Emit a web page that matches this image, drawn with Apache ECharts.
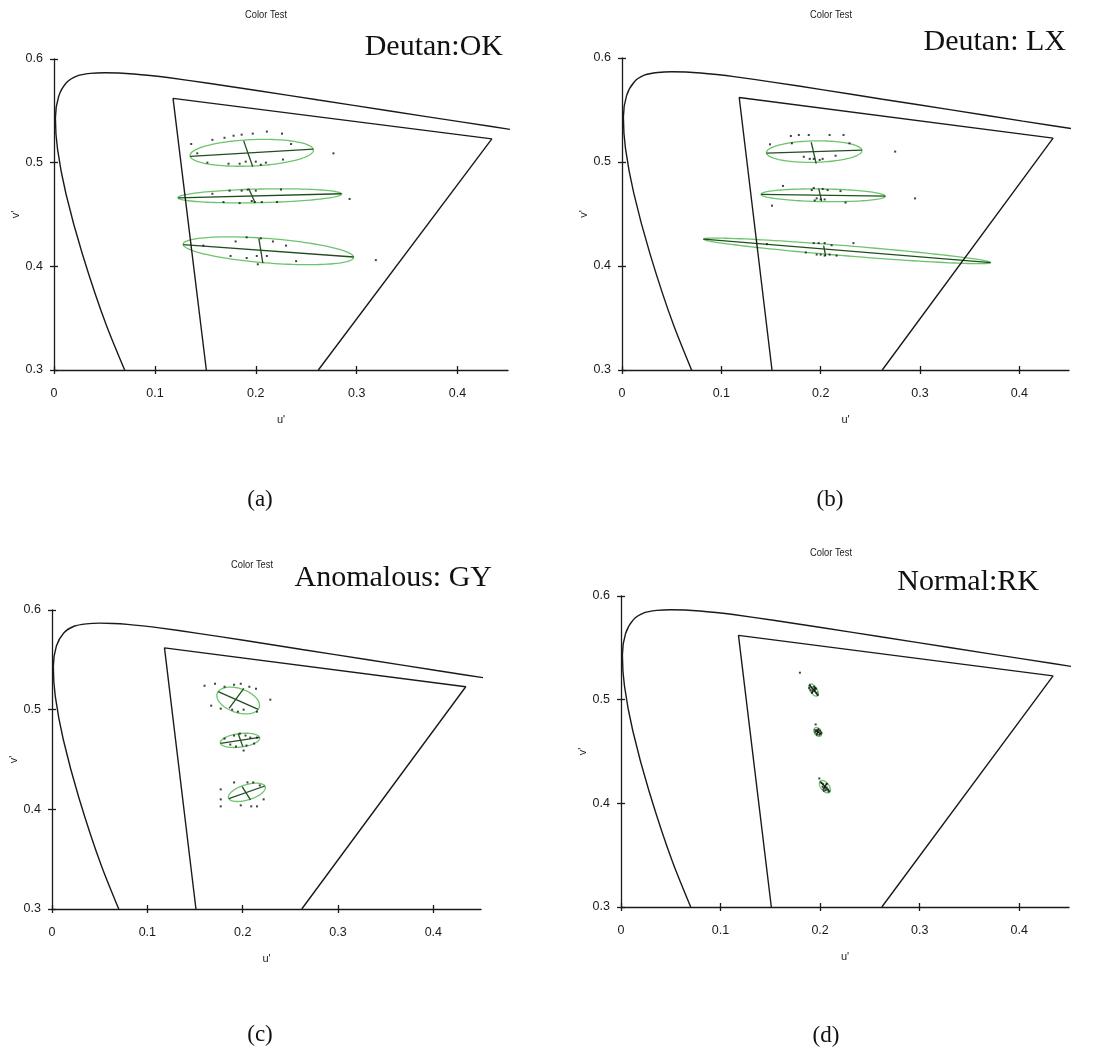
<!DOCTYPE html>
<html>
<head>
<meta charset="utf-8">
<title>Color Test</title>
<script src="https://cdn.jsdelivr.net/npm/echarts@6/dist/echarts.min.js"></script>
<style>
  html, body { margin: 0; padding: 0; background: #ffffff; }
  #chart { width: 1097px; height: 1053px; }
</style>
</head>
<body>
<div id="chart"></div>
<script>
// ---- CIE 1976 u'v' spectral locus (480 nm ... 610 nm) ----
const locusU = [0.0828, 0.0521, 0.0282, 0.0119, 0.0035, 0.0014, 0.0046, 0.0123, 0.0231, 0.0360,
                0.0501, 0.0643, 0.0792, 0.0953, 0.1127, 0.1531, 0.2026, 0.2623, 0.3315, 0.4035, 0.4692];
const locusV = [0.2708, 0.3427, 0.4117, 0.4698, 0.5131, 0.5432, 0.5638, 0.5770, 0.5837, 0.5861,
                0.5868, 0.5865, 0.5856, 0.5841, 0.5821, 0.5766, 0.5694, 0.5604, 0.5501, 0.5393, 0.5296];

// ---- display gamut outline (blue edge -> green -> red -> blue edge) ----
const gamutU = [0.151, 0.118, 0.434, 0.262];
const gamutV = [0.300, 0.562, 0.523, 0.300];

// ---- axis ticks ----
const xTickValues = [0, 0.1, 0.2, 0.3, 0.4];
const xTickLabels = ['0', '0.1', '0.2', '0.3', '0.4'];
const yTickValues = [0.3, 0.4, 0.5, 0.6];
const yTickLabels = ['0.3', '0.4', '0.5', '0.6'];

const chartTitle = 'Color Test';
const xName = "u'";
const yName = "v'";
const observers = ['Deutan:OK', 'Deutan: LX', 'Anomalous: GY', 'Normal:RK'];
const captions = ['(a)', '(b)', '(c)', '(d)'];

// ---- discrimination ellipses: [major u1, v1, u2, v2, minor u1, v1, u2, v2] ----
const ellipsesOK = [
  [0.135, 0.506, 0.257, 0.513, 0.188, 0.521, 0.197, 0.496],
  [0.123, 0.466, 0.285, 0.470, 0.193, 0.475, 0.199, 0.462],
  [0.128, 0.421, 0.297, 0.409, 0.203, 0.427, 0.207, 0.403]
];
const ellipsesLX = [
  [0.1455, 0.5085, 0.2415, 0.5115, 0.1905, 0.5190, 0.1955, 0.4985],
  [0.140, 0.4688, 0.265, 0.4672, 0.198, 0.4746, 0.201, 0.4624],
  [0.082, 0.4258, 0.371, 0.4033, 0.203, 0.4197, 0.205, 0.4098]
];
const ellipsesGY = [
  [0.1743, 0.5181, 0.2163, 0.5003, 0.2012, 0.5214, 0.1858, 0.5013],
  [0.1767, 0.4662, 0.2177, 0.4722, 0.1953, 0.4759, 0.2002, 0.4629],
  [0.1855, 0.4107, 0.2233, 0.4234, 0.1995, 0.4227, 0.2082, 0.4094]
];
const ellipsesRK = [
  [0.1891, 0.5144, 0.1978, 0.5041, 0.1955, 0.5121, 0.1915, 0.5063],
  [0.1938, 0.4713, 0.2015, 0.4664, 0.1985, 0.4722, 0.1965, 0.4651],
  [0.1998, 0.4210, 0.2099, 0.4111, 0.2072, 0.4198, 0.2025, 0.4130]
];

// ---- individual colour matches (u', v') ----
const matchesOK = [
  [0.136, 0.518], [0.152, 0.500], [0.157, 0.522], [0.169, 0.524], [0.178, 0.526], [0.186, 0.527],
  [0.197, 0.528], [0.211, 0.530], [0.226, 0.528], [0.235, 0.518], [0.173, 0.499], [0.184, 0.499],
  [0.190, 0.501], [0.200, 0.501], [0.205, 0.498], [0.210, 0.500], [0.227, 0.503], [0.277, 0.509],
  [0.142, 0.509],
  [0.157, 0.470], [0.174, 0.473], [0.186, 0.473], [0.192, 0.474], [0.200, 0.473], [0.225, 0.474],
  [0.168, 0.462], [0.184, 0.461], [0.196, 0.463], [0.199, 0.462], [0.206, 0.462], [0.221, 0.462],
  [0.293, 0.465],
  [0.148, 0.420], [0.180, 0.424], [0.191, 0.428], [0.205, 0.427], [0.217, 0.424], [0.230, 0.420],
  [0.175, 0.410], [0.191, 0.408], [0.201, 0.410], [0.211, 0.410], [0.202, 0.402], [0.240, 0.405],
  [0.319, 0.406]
];
const matchesLX = [
  [0.170, 0.525], [0.178, 0.526], [0.188, 0.526], [0.209, 0.526], [0.223, 0.526], [0.149, 0.517],
  [0.171, 0.518], [0.229, 0.518], [0.183, 0.505], [0.189, 0.503], [0.193, 0.503], [0.199, 0.502],
  [0.202, 0.503], [0.215, 0.506], [0.275, 0.510],
  [0.162, 0.477], [0.151, 0.458], [0.191, 0.473], [0.193, 0.475], [0.202, 0.474], [0.207, 0.473],
  [0.220, 0.472], [0.196, 0.465], [0.200, 0.464], [0.204, 0.464], [0.194, 0.463], [0.225, 0.461],
  [0.295, 0.465],
  [0.193, 0.422], [0.198, 0.422], [0.204, 0.422], [0.211, 0.420], [0.233, 0.422], [0.146, 0.421],
  [0.185, 0.413], [0.196, 0.411], [0.200, 0.411], [0.204, 0.410], [0.209, 0.411], [0.216, 0.410]
];
const matchesGY = [
  [0.160, 0.524], [0.171, 0.526], [0.181, 0.523], [0.191, 0.525], [0.198, 0.526], [0.207, 0.523],
  [0.214, 0.521], [0.229, 0.510], [0.167, 0.504], [0.177, 0.501], [0.189, 0.500], [0.195, 0.498],
  [0.201, 0.500], [0.215, 0.498],
  [0.181, 0.471], [0.191, 0.474], [0.197, 0.476], [0.203, 0.474], [0.208, 0.472], [0.215, 0.472],
  [0.187, 0.465], [0.193, 0.463], [0.204, 0.464], [0.212, 0.466], [0.201, 0.459],
  [0.177, 0.420], [0.177, 0.410], [0.177, 0.403], [0.191, 0.427], [0.205, 0.427], [0.211, 0.427],
  [0.218, 0.424], [0.222, 0.410], [0.198, 0.404], [0.209, 0.403], [0.215, 0.403]
];
const matchesRK = [
  [0.1898, 0.5137], [0.1915, 0.5118], [0.1931, 0.5099], [0.1948, 0.5086], [0.1965, 0.5067],
  [0.1975, 0.5047], [0.1905, 0.5092], [0.1938, 0.5125], [0.1958, 0.5105], [0.1918, 0.5067],
  [0.1891, 0.5112], [0.1925, 0.5080], [0.1950, 0.5110], [0.1797, 0.5260],
  [0.1961, 0.4706], [0.1981, 0.4713], [0.1999, 0.4700], [0.2012, 0.4681], [0.1992, 0.4661],
  [0.1965, 0.4668], [0.1951, 0.4687], [0.1981, 0.4687], [0.2001, 0.4674], [0.1972, 0.4695],
  [0.1955, 0.4761],
  [0.2015, 0.4198], [0.2031, 0.4185], [0.2048, 0.4165], [0.2065, 0.4153], [0.2081, 0.4133],
  [0.2038, 0.4122], [0.2065, 0.4185], [0.2025, 0.4160], [0.2085, 0.4114], [0.2058, 0.4127],
  [0.2045, 0.4145], [0.1992, 0.4240]
];

const ellipseSets = [ellipsesOK, ellipsesLX, ellipsesGY, ellipsesRK];
const matchSets = [matchesOK, matchesLX, matchesGY, matchesRK];

// ---- page layout ----
const panels = [
  { grid: { left: 54, top: 59, width: 454, height: 311 }, title: [266, 15], label: [503, 47], caption: [260, 500] },
  { grid: { left: 622, top: 58, width: 447, height: 312 }, title: [831, 15], label: [1066, 42], caption: [830, 500] },
  { grid: { left: 52, top: 610, width: 429, height: 299 }, title: [252, 565], label: [492, 578], caption: [260, 1035] },
  { grid: { left: 621, top: 596, width: 448, height: 311 }, title: [831, 553], label: [1039, 582], caption: [826, 1036] }
];

const sansFont = "'Liberation Sans', Arial, sans-serif";
const serifFont = "'Liberation Serif', 'Times New Roman', serif";
const ink = '#1a1a1a';
const ellipseColor = '#6cc46c';
const axisLineColor = '#1f4f1f';

function tickLabel(values, labels) {
  return function (v) {
    let best = 0;
    for (let i = 1; i < values.length; i++) {
      if (Math.abs(values[i] - v) < Math.abs(values[best] - v)) best = i;
    }
    return labels[best];
  };
}

const locusData = locusU.map((u, i) => [u, locusV[i]]);
const gamutData = gamutU.map((u, i) => [u, gamutV[i]]);

// ellipse outline from two conjugate semi-axes, plus the two axis strokes
function renderEllipse(params, api) {
  const p1u = api.value(0), p1v = api.value(1), p2u = api.value(2), p2v = api.value(3);
  const q1u = api.value(4), q1v = api.value(5), q2u = api.value(6), q2v = api.value(7);
  const cu = (p1u + p2u) / 2, cv = (p1v + p2v) / 2;
  const au = (p2u - p1u) / 2, av = (p2v - p1v) / 2;
  const bu = (q1u - q2u) / 2, bv = (q1v - q2v) / 2;
  const pts = [];
  const n = 120;
  for (let i = 0; i < n; i++) {
    const t = (i / n) * Math.PI * 2;
    const c = Math.cos(t), s = Math.sin(t);
    pts.push(api.coord([cu + au * c + bu * s, cv + av * c + bv * s]));
  }
  const a1 = api.coord([p1u, p1v]), a2 = api.coord([p2u, p2v]);
  const b1 = api.coord([q1u, q1v]), b2 = api.coord([q2u, q2v]);
  return {
    type: 'group',
    children: [
      { type: 'polygon', shape: { points: pts }, style: { fill: 'none', stroke: ellipseColor, lineWidth: 1.3 } },
      { type: 'line', shape: { x1: a1[0], y1: a1[1], x2: a2[0], y2: a2[1] }, style: { stroke: axisLineColor, lineWidth: 1.3 } },
      { type: 'line', shape: { x1: b1[0], y1: b1[1], x2: b2[0], y2: b2[1] }, style: { stroke: axisLineColor, lineWidth: 1.3 } }
    ]
  };
}

const grids = [], xAxes = [], yAxes = [], series = [], graphics = [];

panels.forEach((p, k) => {
  grids.push(Object.assign({ containLabel: false, show: false }, p.grid));
  const mainX = xAxes.length;
  // main axes: line, labels and the outer half of each tick
  xAxes.push({
    type: 'value', gridIndex: k, position: 'bottom', min: 0, max: 0.45,
    name: xName, nameLocation: 'middle', nameGap: 44,
    nameTextStyle: { fontFamily: sansFont, fontSize: 11, color: ink },
    axisLine: { show: true, onZero: false, lineStyle: { color: ink, width: 1.3 } },
    axisTick: { show: true, inside: false, length: 4, customValues: xTickValues, lineStyle: { color: ink, width: 1.3 } },
    axisLabel: { show: true, margin: 17, customValues: xTickValues, formatter: tickLabel(xTickValues, xTickLabels),
                 fontFamily: sansFont, fontSize: 12.5, color: ink },
    splitLine: { show: false }
  });
  // overlay axes: inner half of each tick
  xAxes.push({
    type: 'value', gridIndex: k, position: 'bottom', min: 0, max: 0.45,
    axisLine: { show: false },
    axisTick: { show: true, inside: true, length: 4, customValues: xTickValues, lineStyle: { color: ink, width: 1.3 } },
    axisLabel: { show: false }, splitLine: { show: false }
  });
  const mainY = yAxes.length;
  yAxes.push({
    type: 'value', gridIndex: k, position: 'left', min: 0.3, max: 0.6,
    name: yName, nameLocation: 'middle', nameGap: 23, nameRotate: 90,
    nameTextStyle: { fontFamily: sansFont, fontSize: 11, color: ink },
    axisLine: { show: true, onZero: false, lineStyle: { color: ink, width: 1.3 } },
    axisTick: { show: true, inside: false, length: 4, customValues: yTickValues, lineStyle: { color: ink, width: 1.3 } },
    axisLabel: { show: true, margin: 11, customValues: yTickValues, formatter: tickLabel(yTickValues, yTickLabels),
                 fontFamily: sansFont, fontSize: 12.5, color: ink },
    splitLine: { show: false }
  });
  yAxes.push({
    type: 'value', gridIndex: k, position: 'left', min: 0.3, max: 0.6,
    axisLine: { show: false },
    axisTick: { show: true, inside: true, length: 4, customValues: yTickValues, lineStyle: { color: ink, width: 1.3 } },
    axisLabel: { show: false }, splitLine: { show: false }
  });

  series.push({
    type: 'line', xAxisIndex: mainX, yAxisIndex: mainY, data: locusData,
    smooth: 0.25, showSymbol: false, clip: true, silent: true,
    lineStyle: { color: ink, width: 1.4 }
  });
  series.push({
    type: 'line', xAxisIndex: mainX, yAxisIndex: mainY, data: gamutData,
    showSymbol: false, clip: true, silent: true,
    lineStyle: { color: ink, width: 1.4 }
  });
  series.push({
    type: 'custom', xAxisIndex: mainX, yAxisIndex: mainY, clip: true, silent: true,
    renderItem: renderEllipse,
    encode: { x: [0, 2, 4, 6], y: [1, 3, 5, 7] },
    data: ellipseSets[k]
  });
  series.push({
    type: 'scatter', xAxisIndex: mainX, yAxisIndex: mainY, data: matchSets[k],
    symbol: 'rect', symbolSize: 2, silent: true,
    itemStyle: { color: '#111111' }
  });

  // small window title, slightly condensed
  graphics.push({
    type: 'text', x: p.title[0], y: p.title[1], scaleX: 0.85,
    style: { text: chartTitle, font: '11px ' + sansFont, fill: ink, align: 'center', verticalAlign: 'middle' }
  });
  graphics.push({
    type: 'text', x: p.label[0], y: p.label[1],
    style: { text: observers[k], font: '30px ' + serifFont, fill: '#111111', align: 'right', verticalAlign: 'middle' }
  });
  graphics.push({
    type: 'text', x: p.caption[0], y: p.caption[1],
    style: { text: captions[k], font: '23px ' + serifFont, fill: '#111111', align: 'center', verticalAlign: 'middle' }
  });
});

const chart = echarts.init(document.getElementById('chart'), null, { renderer: 'canvas' });
chart.setOption({
  backgroundColor: '#ffffff',
  animation: false,
  grid: grids,
  xAxis: xAxes,
  yAxis: yAxes,
  series: series,
  graphic: graphics
});
</script>
</body>
</html>
